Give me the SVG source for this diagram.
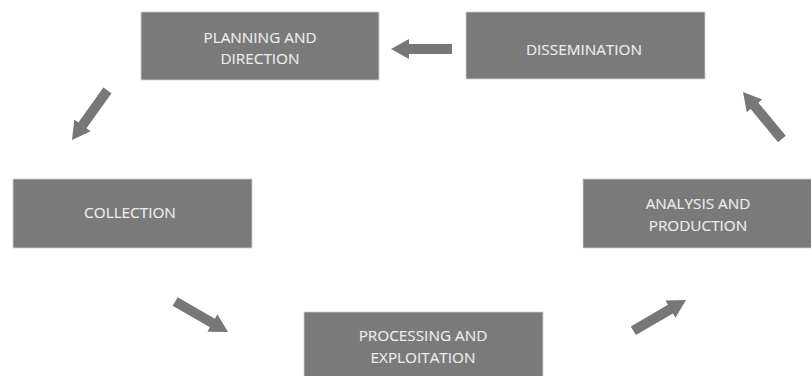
<svg xmlns="http://www.w3.org/2000/svg" width="811" height="376" viewBox="0 0 811 376">
<defs>
<style>
.box{fill:#7a7a7a;stroke:#d0d0d0;stroke-width:0.8}
.lbl{font-family:"Open Sans","Noto Sans",sans-serif;font-size:15.3px;fill:#ededed;text-anchor:middle;stroke:#ededed;stroke-width:0.15}
.arr{fill:#777777}
</style>
<path id="ar" d="M0,0 L-18,-10 L-18,-5 L-61,-5 L-61,5 L-18,5 L-18,10 Z"/>
</defs>
<rect width="811" height="376" fill="#ffffff"/>
<g id="connectors" class="arr">
<use href="#ar" transform="translate(391,49) rotate(180)"/>
<use href="#ar" transform="translate(72,140) rotate(125.5)"/>
<use href="#ar" transform="translate(228,332) rotate(30)"/>
<use href="#ar" transform="translate(686,300) rotate(-30.3)"/>
<use href="#ar" transform="translate(743,92) rotate(230.4)"/>
</g>
<g id="planning">
<rect class="box" x="141" y="12" width="238" height="68"/>
<text class="lbl" x="260" y="43">PLANNING AND</text>
<text class="lbl" x="260" y="64">DIRECTION</text>
</g>
<g id="dissemination">
<rect class="box" x="466" y="12" width="239" height="67"/>
<text class="lbl" x="584" y="55">DISSEMINATION</text>
</g>
<g id="collection">
<rect class="box" x="13" y="179" width="239" height="69"/>
<text class="lbl" x="130" y="218">COLLECTION</text>
</g>
<g id="analysis">
<rect class="box" x="583" y="179" width="230" height="69"/>
<text class="lbl" x="698" y="209">ANALYSIS AND</text>
<text class="lbl" x="698" y="231">PRODUCTION</text>
</g>
<g id="processing">
<rect class="box" x="304" y="312" width="239" height="70"/>
<text class="lbl" x="423" y="341">PROCESSING AND</text>
<text class="lbl" x="423" y="363">EXPLOITATION</text>
</g>
</svg>
